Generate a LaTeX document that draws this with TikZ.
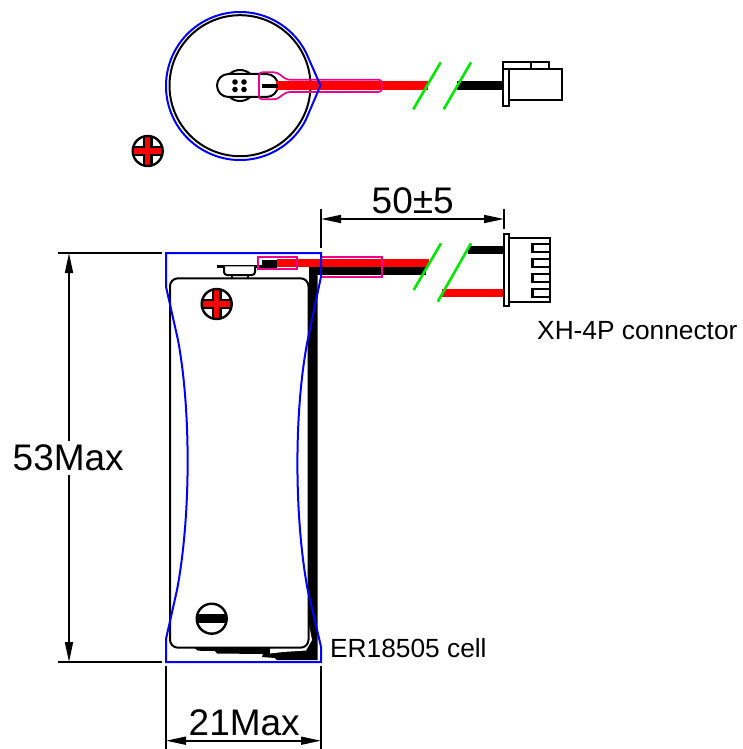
\documentclass[tikz,border=0pt]{standalone}
\usepackage{fontspec}
\setmainfont{Liberation Sans}
\usetikzlibrary{arrows.meta}
\definecolor{wirered}{RGB}{255,0,0}
\definecolor{cutgreen}{RGB}{0,230,0}
\tikzset{
    outline/.style={line width=2pt},
    guard/.style={draw=blue, line width=2pt},
    sleeve/.style={draw=magenta, line width=1.7pt},
    cut/.style={draw=cutgreen, line width=2.6pt},
    dim/.style={line width=1.7pt},
    bigtext/.style={font=\fontsize{37}{40}\selectfont, inner xsep=0pt, inner ysep=4pt, anchor=base west},
    smalltext/.style={font=\fontsize{26.3}{30}\selectfont, inner sep=0pt, anchor=base west},
    >={Triangle[length=20pt,width=8pt]}
}
\newcommand{\posmark}[1]{
    \begin{scope}[shift={#1}]
    \draw[black, line width=10pt] (-15,0) -- (15,0);
    \draw[black, line width=10pt] (0,-15) -- (0,15);
    \draw[wirered, line width=5.5pt] (-14,0) -- (14,0);
    \draw[wirered, line width=5.5pt] (0,-14) -- (0,14);
    \draw[line width=2.4pt] (0,0) circle (15pt);
    \end{scope}
}
\newcommand{\negmark}[1]{
    \begin{scope}[shift={#1}]
    \draw[black, line width=9pt] (-15,0) -- (15,0);
    \draw[line width=2.4pt] (0,0) circle (15pt);
    \end{scope}
}
\begin{document}
\begin{tikzpicture}[x=1pt,y=1pt,yscale=-1]
    \useasboundingbox (0,0) rectangle (743,749);
    % top view
    \draw[outline] (240,85.7) circle (70.5pt);
    \draw[outline] (240,85.5) circle (15.5pt);
    \draw[outline, fill=white, rounded corners=11.5pt] (217,74) rectangle (278,97);
    \foreach \dotx in {235,244}
        \foreach \doty in {82,89.5}
            \fill (\dotx,\doty) circle (2.8pt);
    \fill[wirered] (276,81.5) rectangle (427.5,90.5);
    \fill (262,83.7) rectangle (278,88.3);
    \fill (457,81.5) rectangle (503,90.5);
    \draw[sleeve, rounded corners=3pt] (286.7,79.7) -- (276.7,72.3) -- (259,72.3) -- (259,99.3) -- (276.7,99.3) -- (286.7,92) -- (381.7,92) -- (381.7,79.7) -- cycle;
    \draw[guard] (240,86) ++(27:74pt) arc (27:333:74pt) -- (320.5,85.5) -- cycle;
    \draw[cut] (413.3,109.3) -- (440.7,62.3);
    \draw[cut] (443.7,109.3) -- (471,62.3);
    \draw[outline, fill=white] (509.3,69.3) rectangle (562.3,100);
    \draw[outline, fill=white] (503,69.3) rectangle (509.3,106);
    \draw[outline] (503,69.3) rectangle (549,62);
    \draw[outline] (530.7,62) -- (530.7,69.3);
    \posmark{(147.7,151)}
    % side view
    \fill (309,266.7) -- (317.5,266.7) -- (317.5,660) -- (277,660) -- (275,658) -- (262,657) -- (263,654) -- (217,653.5) -- (215,651) -- (198,650.7) -- (193,647) -- (309,640) -- cycle;
    \fill[white] (309,625) -- (312,640) -- (306,650.5) -- (283,652) -- (270,653.5) -- (270,649) -- (280,640) -- cycle;
    \draw[outline, fill=white, rounded corners=8pt] (170,278.3) rectangle (308.5,647.7);
    \draw[line width=3pt] (217,266.3) -- (262,266.3);
    \draw[outline, fill=white, rounded corners=3pt] (224,266.3) -- (224,275) -- (255,275) -- (255,266.3);
    \draw[outline] (232,275) -- (232,278) (248,275) -- (248,278);
    \fill[wirered] (277,259) rectangle (429.3,266.7);
    \fill (262.3,260.3) rectangle (277,267.7);
    \fill (309,266.7) rectangle (425.7,274.7);
    \fill (468,245.7) rectangle (504,254);
    \fill[wirered] (442,289) rectangle (504,297);
    \draw[sleeve] (258.3,256.7) rectangle (297,269.3);
    \draw[sleeve] (321,256.7) -- (381.7,256.7) -- (381.7,277.3) -- (321,277.3);
    \draw[guard] (166,253) -- (321,253) -- (321,276.7) -- (307.7,340) .. controls (294,410) and (294,516) .. (307.7,590) -- (321,646.7) -- (321,662) -- (166,662) -- (166,639) -- (177,590) .. controls (191,516) and (191,410) .. (178,340) -- (166,286.7) -- cycle;
    \draw[cut] (413.7,290) -- (441,243.3);
    \draw[cut] (437.7,301.7) -- (471,243.3);
    \posmark{(216.7,304)}
    \negmark{(211.7,618.7)}
    % connector
    \draw[outline, fill=white] (508.7,238.3) rectangle (550,302);
    \draw[outline, fill=white] (503.7,233.7) rectangle (508.7,306.3);
    \foreach \piny in {244,259,274,289}
        \draw[line width=2.4pt, fill=white] (550,\piny) rectangle (532.3,\piny+7.7);
    % dimensions
    \coordinate (lentop) at (69,253);
    \coordinate (lenbot) at (69,662);
    \coordinate (widl) at (166,740.7);
    \coordinate (widr) at (321,740.7);
    \coordinate (leadl) at (321,219);
    \coordinate (leadr) at (504,219);
    \draw[dim] (58,253) -- (162,253);
    \draw[dim] (58,662) -- (162,662);
    \draw[dim] (166,666) -- (166,749);
    \draw[dim] (321,666) -- (321,749);
    \draw[dim] (321,209) -- (321,248);
    \draw[dim] (504,209) -- (504,229);
    \draw[dim, <->] (lentop) -- (lenbot);
    \draw[dim, <->] (widl) -- (widr);
    \draw[dim, <->] (leadl) -- (leadr);
    \node[bigtext, fill=white] (lenlabel) at (12.5,470.7) {53Max};
    \node[bigtext] (widlabel) at (188.5,735) {21Max};
    \node[bigtext] (leadlabel) at (371.5,213.5) {50±5};
    \node[smalltext] (connlabel) at (537,339) {XH-4P connector};
    \node[smalltext] (celllabel) at (330,657) {ER18505 cell};
\end{tikzpicture}
\end{document}
